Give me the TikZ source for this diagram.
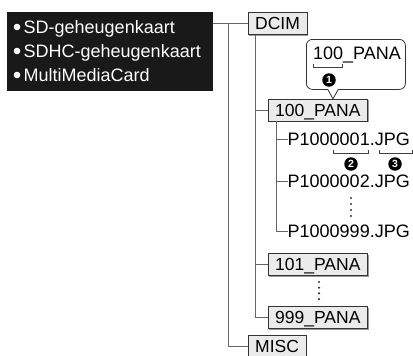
\documentclass[tikz,border=0pt]{standalone}
\usepackage{fontspec}
\setmainfont{Liberation Sans}
\usetikzlibrary{calc,shadows}

\tikzset{
  folder/.style={draw=black!80, fill=black!8, anchor=west, inner xsep=7pt, inner ysep=0pt,
    minimum height=22pt, text height=12.6pt, text depth=0pt, font=\fontsize{17.5}{20}\selectfont,
    drop shadow={shadow xshift=1.2pt, shadow yshift=-1.2pt, fill=black!40, opacity=1}},
  file/.style={anchor=west, inner sep=0pt, text height=12.9pt, text depth=0pt, font=\fontsize{18}{20}\selectfont},
  tree/.style={draw=black!60, line width=0.9pt},
  brace/.style={draw=black!75, line width=0.8pt},
  num/.style={circle, fill=black, text=white, inner sep=0pt, minimum size=13.5pt, font=\bfseries\fontsize{10.5}{10.5}\selectfont},
}

\begin{document}
\begin{tikzpicture}[x=1pt, y=-1pt]
\useasboundingbox (0,0) rectangle (413,356);

% Card types
\node[fill=black!90, minimum width=206pt, minimum height=79pt, inner sep=0pt, anchor=north west] (cards) at (7,12) {};
\foreach \y/\card in {27/SD-geheugenkaart, 51/SDHC-geheugenkaart, 75/MultiMediaCard} {
    \fill[white] (17,\y) circle (3.3);
    \node[file, white] (card\y) at (23.5,\y) {\card};
}

% Folders
\node[folder] (dcim) at (248,23.5) {DCIM};
\node[folder] (pana100) at (268,110) {100\_PANA};
\node[folder] (pana101) at (268,264.5) {101\_PANA};
\node[folder] (pana999) at (268,317.5) {999\_PANA};
\node[folder] (misc) at (248,346) {MISC};

% Files
\node[file] (img1) at (287.5,139) {P1000001.JPG};
\node[file] (img2) at (287.5,181) {P1000002.JPG};
\node[file] (img999) at (287.5,231) {P1000999.JPG};

% Tree lines
\coordinate (trunk) at (228,23.5);
\draw[tree] (cards.east |- dcim.west) -- (dcim.west);
\draw[tree] (trunk) |- (misc.west);
\coordinate (dtrunk) at ($(dcim.south west)+(7,0)$);
\draw[tree] (dtrunk) |- (pana999.west);
\draw[tree] (dtrunk |- pana100.west) -- (pana100.west);
\draw[tree] (dtrunk |- pana101.west) -- (pana101.west);
\coordinate (ftrunk) at ($(pana100.south west)+(8,0)$);
\draw[tree] (ftrunk) |- (img999.west);
\draw[tree] (ftrunk |- img1.west) -- (img1.west);
\draw[tree] (ftrunk |- img2.west) -- (img2.west);

% Dots
\foreach \k in {0,...,3} {
    \fill[black!80] (351,198+6*\k) circle (1.2);
    \fill[black!80] (319,282+5.7*\k) circle (1.2);
}

% Callout
\node[draw=black!80, line width=0.8pt, rounded corners=6pt, minimum width=99pt, minimum height=50pt, anchor=north west] (callout) at (306,39) {};
\node[file] (calltext) at (313,53.5) {100\_PANA};
\coordinate (tip) at ($(pana100.north west)+(65,0)$);
\fill[white] ($(tip |- callout.south)+(-5,-0.8)$) -- (tip) -- ($(tip |- callout.south)+(5,-0.8)$) -- cycle;
\draw[draw=black!80, line width=0.8pt] ($(tip |- callout.south)+(-5,0)$) -- (tip) -- ($(tip |- callout.south)+(5,0)$);

% Brackets and numbers
\foreach \a/\b/\y in {313/342/67, 333/368/153, 379/412/153}
    \draw[brace] (\a,\y-3) |- (\b,\y) -- (\b,\y-3);
\node[num] (n1) at (329,80) {1};
\node[num] (n2) at (351,164) {2};
\node[num] (n3) at (395,164) {3};
\end{tikzpicture}
\end{document}
